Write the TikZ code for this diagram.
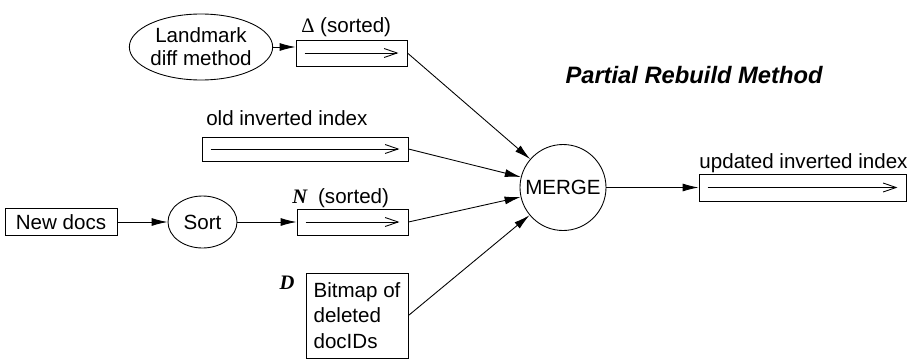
\documentclass[tikz,border=0pt]{standalone}
\usepackage{fontspec}
\setmainfont{Liberation Sans}
\newfontfamily\serifletters{Liberation Serif}
\usetikzlibrary{arrows.meta,shapes.geometric}

\begin{document}
\begin{tikzpicture}[
	line width=0.5pt,
	font=\fontsize{11.7}{14.7}\selectfont,
	listbox/.style={draw, minimum height=0.52cm, inner sep=0pt},
	oval/.style={draw, ellipse, inner sep=0pt},
	feed/.style={-{Latex[length=0.32cm,width=0.16cm]}},
	runs/.style={-{Straight Barb[length=0.26cm,width=0.18cm]}}
]
\useasboundingbox (0,0) rectangle (18.28,7.18);

% inputs
\node[oval, minimum width=2.72cm, minimum height=1.32cm, align=center,
	font=\fontsize{11.7}{13.2}\selectfont] (landmark) at (4.02,6.24) {Landmark\\diff method};
\node[listbox, minimum width=2.22cm] (delta) at (7.03,6.12) {};
\node[anchor=west] (deltalabel) at (5.90,6.64) {{\serifletters Δ} (sorted)};

\node[listbox, minimum width=4.12cm, minimum height=0.48cm] (old) at (6.10,4.20) {};
\node[anchor=west] (oldlabel) at (4.00,4.82) {old inverted index};

\node[listbox, minimum width=2.24cm, minimum height=0.54cm] (newdocs) at (1.22,2.74) {New docs};
\node[oval, minimum width=1.38cm, minimum height=1.04cm] (sort) at (4.05,2.74) {Sort};
\node[listbox, minimum width=2.22cm] (nsorted) at (7.05,2.74) {};
\node[anchor=west] (nlabel) at (5.72,3.22) {{\serifletters\bfseries\itshape N}\hspace{0.22cm}(sorted)};

\node (dlabel) at (5.74,1.52) {\serifletters\bfseries\itshape D};
\node[listbox, minimum width=2.04cm, minimum height=1.70cm, align=left] (bitmap) at (7.14,0.87)
	{Bitmap of\\deleted\\docIDs};

% merge and result
\node[draw, circle, minimum size=1.72cm, inner sep=0pt] (merge) at (11.26,3.43) {MERGE};
\node[listbox, minimum width=4.14cm, minimum height=0.54cm] (updated) at (16.05,3.43) {};
\node (updatedlabel) at (16.07,3.92) {updated inverted index};

\node (title) at (13.88,5.68) {\fontsize{13.5}{16}\selectfont\bfseries\itshape Partial Rebuild Method};

% runs inside the lists
\foreach \lst in {delta,old,nsorted,updated} {
	\draw[runs] ([xshift=0.18cm]\lst.west) -- ([xshift=-0.18cm]\lst.east);
}

\draw[feed] (landmark.east) -- (landmark.east -| delta.west);
\draw[feed] (newdocs) -- (sort);
\draw[feed] (sort) -- (nsorted);

\draw[feed] (delta.east) -- (merge);
\draw[feed] (old.east) -- (merge);
\draw[feed] (nsorted.east) -- (merge);
\draw[feed] (bitmap.east) -- (merge);
\draw[feed] (merge) -- (updated);
\end{tikzpicture}
\end{document}
